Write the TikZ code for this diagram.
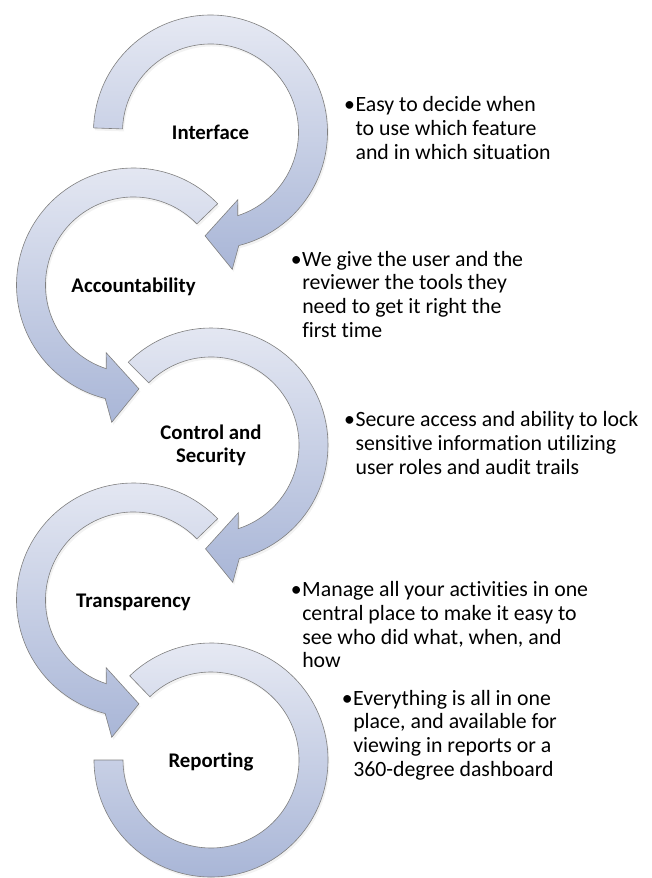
\documentclass[tikz,border=0pt]{standalone}
\usepackage{fontspec}
\setmainfont{Carlito}[Ligatures=NoCommon]
\usetikzlibrary{shadows}

\definecolor{arclight}{HTML}{E6E9F3}
\definecolor{arcdark}{HTML}{A9B6D7}
\definecolor{arcedge}{HTML}{808080}

\tikzset{
  ringfill/.style={draw=arcedge, line width=0.6pt, top color=arclight, bottom color=arcdark,
    drop shadow={opacity=0.1, shadow xshift=1.5pt, shadow yshift=-2.5pt}},
  steplabel/.style={font=\fontsize{20.8}{23}\selectfont\bfseries, align=center, inner sep=0pt},
  bullettext/.style={font=\fontsize{21.8}{23.7}\selectfont, inner sep=0pt, anchor=base west}
}
\newcommand{\bulletlines}[1]{\begin{tabular}[t]{@{}l@{\hspace{0.5pt}}l@{}}#1\end{tabular}}

\begin{document}
\begin{tikzpicture}[x=1pt,y=1pt]
	\useasboundingbox (0,0) rectangle (652,-878);

	% labels sit in the ring centres
	\node[steplabel] (interface) at (210.5,-132) {Interface};
	\node[steplabel] (account) at (133.5,-287) {Accountability};
	\node[steplabel] (control) at (211,-445) {Control and\\Security};
	\node[steplabel] (transp) at (133.5,-602) {Transparency};
	\node[steplabel] (report) at (211,-762) {Reporting};

	% clockwise arrows
	\foreach \c/\a in {interface/178, control/135}
		\draw[ringfill, shift={(\c.center)}] (\a:117) arc[start angle=\a, end angle=-76, radius=117]
			-- (-81:139) -- (-93:104) -- (-68:73) -- (-72:88)
			arc[start angle=-72, end angle=\a, radius=88] -- cycle;

	% counter-clockwise arrows
	\foreach \c/\a in {account/44, transp/44}
		\draw[ringfill, shift={([yshift=2pt]\c.center)}] (\a:117) arc[start angle=\a, end angle=256, radius=117]
			-- (261:139) -- (273:104) -- (248:73) -- (252:88)
			arc[start angle=252, end angle=\a, radius=88] -- cycle;

	% last ring has no head
	\draw[ringfill, shift={([yshift=2pt]report.center)}] (180:117) arc[start angle=180, end angle=494, radius=117]
		-- (494:88) arc[start angle=494, end angle=180, radius=88] -- cycle;

	\node[bullettext] (easy) at (344,-111.7) {\bulletlines{\textbullet & Easy to decide when\\ & to use which feature\\ & and in which situation}};
	\node[bullettext] (tools) at (290.7,-266) {\bulletlines{\textbullet & We give the user and the\\ & reviewer the tools they\\ & need to get it right the\\ & first time}};
	\node[bullettext] (secure) at (344,-426.7) {\bulletlines{\textbullet & Secure access and ability to lock\\ & sensitive information utilizing\\ & user roles and audit trails}};
	\node[bullettext] (manage) at (290.7,-596.7) {\bulletlines{\textbullet & Manage all your activities in one\\ & central place to make it easy to\\ & see who did what, when, and\\ & how}};
	\node[bullettext] (allin) at (341.7,-705) {\bulletlines{\textbullet & Everything is all in one\\ & place, and available for\\ & viewing in reports or a\\ & 360-degree dashboard}};
\end{tikzpicture}
\end{document}
